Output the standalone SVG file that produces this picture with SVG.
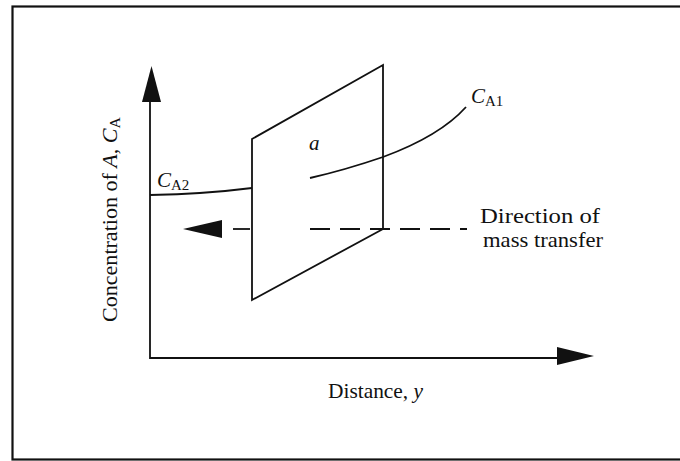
<svg xmlns="http://www.w3.org/2000/svg" width="680" height="461" viewBox="0 0 680 461">
<style>
.ln{fill:none;stroke:#111;stroke-width:1.8}
.t{font-family:"Liberation Serif","Times New Roman",serif;fill:#111;font-size:21px}
.i{font-style:italic}
.s{font-size:15px}
</style>
<rect x="0" y="0" width="680" height="461" fill="#fff"/>
<rect x="12.5" y="6.5" width="680" height="453" fill="none" stroke="#111" stroke-width="2.2"/>
<g id="axes">
<polyline class="ln" points="150,100 150,358 560,358"/>
<polygon points="151.5,66 142,102 161,102" fill="#111"/>
<polygon points="594,356 557,347 557,365" fill="#111"/>
</g>
<g id="plane">
<polygon class="ln" points="252,139 383,65 383,229 252,300"/>
<text class="t i" x="309" y="150">a</text>
</g>
<g id="connectors">
<path class="ln" d="M150,195 Q205,194 252,188"/>
<path class="ln" d="M310,178 Q345,170 383,157 Q440,136 466,107"/>
<line class="ln" x1="233" y1="229" x2="252" y2="229" stroke-dasharray="17,10"/>
<line class="ln" x1="310" y1="229" x2="467" y2="229" stroke-dasharray="20,10"/>
<polygon points="183,229 222,220 222,238" fill="#111"/>
</g>
<g id="labels">
<text class="t" x="480" y="223" textLength="120" lengthAdjust="spacingAndGlyphs">Direction of</text>
<text class="t" x="483" y="247" textLength="120" lengthAdjust="spacingAndGlyphs">mass transfer</text>
<text class="t" x="328" y="398" textLength="95" lengthAdjust="spacingAndGlyphs">Distance, <tspan class="i">y</tspan></text>
<text class="t" transform="translate(117,322) rotate(-90)" textLength="205" lengthAdjust="spacingAndGlyphs">Concentration of <tspan class="i">A</tspan>, <tspan class="i">C</tspan><tspan class="s" dy="3">A</tspan></text>
<text class="t" x="157" y="187"><tspan class="i">C</tspan><tspan class="s" dy="3">A2</tspan></text>
<text class="t" x="471" y="103"><tspan class="i">C</tspan><tspan class="s" dy="3">A1</tspan></text>
</g>
</svg>
